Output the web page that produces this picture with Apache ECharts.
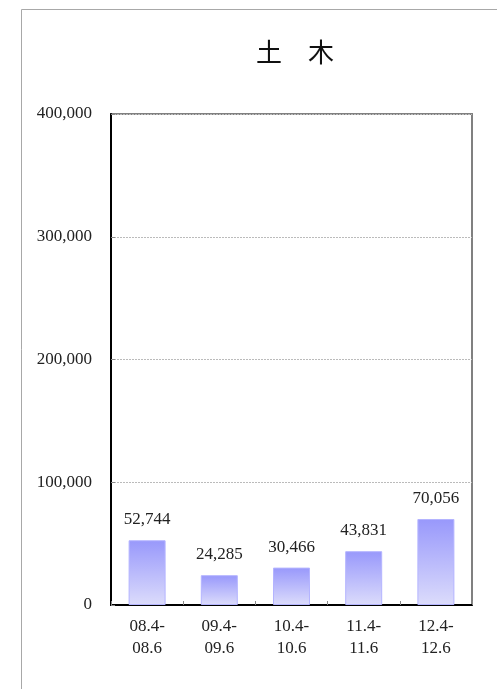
<!DOCTYPE html>
<html><head><meta charset="utf-8">
<script src="https://cdn.jsdelivr.net/npm/echarts@6/dist/echarts.min.js"></script>
<style>html,body{margin:0;padding:0;background:#fff}#c{width:497px;height:689px}</style>
</head><body><div id="c"></div>
<script>
const titleText = '土　木';
const categories = ['08.4-\n08.6', '09.4-\n09.6', '10.4-\n10.6', '11.4-\n11.6', '12.4-\n12.6'];
const values = [52744, 24285, 30466, 43831, 70056];
const yMin = 0, yMax = 400000, yInterval = 100000;

const fmt = v => String(v).replace(/\B(?=(\d{3})+(?!\d))/g, ',');
const FONT = '"Liberation Serif", "DejaVu Serif", serif';

const chart = echarts.init(document.getElementById('c'), null, {renderer: 'canvas'});
chart.setOption({
  backgroundColor: '#fff',
  animation: false,
  graphic: [{
    type: 'rect', silent: true, z: -10,
    shape: {x: 21.5, y: 9.5, width: 520, height: 720},
    style: {fill: 'none', stroke: '#a8a8a8', lineWidth: 1}
  }],
  title: {
    text: titleText, left: 290, top: 34, textAlign: 'center',
    textStyle: {fontFamily: '"Noto Sans CJK JP", sans-serif', fontWeight: 'normal', fontSize: 26, color: '#111'}
  },
  grid: {left: 111, right: 25, top: 114, bottom: 84, show: true, borderColor: '#808080', borderWidth: 2, backgroundColor: '#fff'},
  xAxis: {
    type: 'category', data: categories,
    axisLine: {lineStyle: {color: '#000', width: 2}},
    axisTick: {show: true, inside: true, length: 4, lineStyle: {color: '#888'}},
    axisLabel: {fontFamily: FONT, fontSize: 17, color: '#222', lineHeight: 22, margin: 11},
  },
  yAxis: {
    type: 'value', min: yMin, max: yMax, interval: yInterval,
    axisLine: {show: true, lineStyle: {color: '#000', width: 2}},
    axisTick: {show: true, inside: true, length: 4, lineStyle: {color: '#888'}},
    axisLabel: {fontFamily: FONT, fontSize: 17, color: '#222', margin: 19, formatter: v => fmt(v)},
    splitLine: {show: true, lineStyle: {color: '#bbb', type: [2, 1], width: 1}}
  },
  series: [{
    type: 'bar', data: values, barWidth: 37,
    itemStyle: {
      color: new echarts.graphic.LinearGradient(0, 0, 0, 1, [
        {offset: 0, color: '#9898fb'}, {offset: 1, color: '#dcdcfb'}
      ]),
      borderColor: '#b4b4ff', borderWidth: 1
    },
    label: {show: true, position: 'top', distance: 12, fontFamily: FONT, fontSize: 17, color: '#222', formatter: p => fmt(p.value)}
  }]
});
</script></body></html>
